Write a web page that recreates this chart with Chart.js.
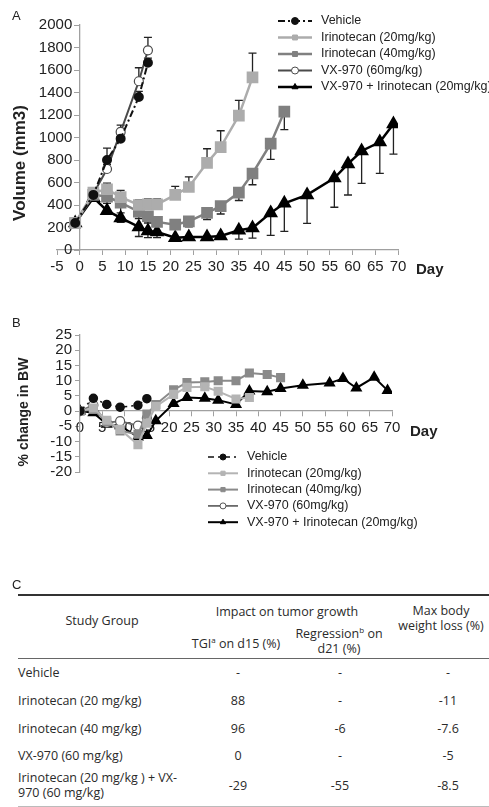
<!DOCTYPE html>
<html>
<head>
<meta charset="utf-8">
<script src="https://cdn.jsdelivr.net/npm/chart.js@4.4.1/dist/chart.umd.min.js"></script>
<style>
  body { margin: 0; background: #fff; }
  #page { position: relative; width: 489px; height: 807px; overflow: hidden; font-family: "Liberation Sans", Arial, sans-serif; color: #222; }
  canvas { position: absolute; left: 0; }
  .t { position: absolute; white-space: nowrap; line-height: 1; }
  .tbl { font-family: "Open Sans", sans-serif; font-size: 12.5px; color: #2a2a2a; line-height: 15px; text-align: center; }
  .tbl.lft { text-align: left; }
  .rule { position: absolute; left: 18px; right: 0; }
  sup { font-size: 8px; vertical-align: 5px; line-height: 0; }
</style>
</head>
<body>
<div id="page">
  <canvas id="volChart" width="489" height="290" style="top:0"></canvas>
  <canvas id="bwChart" width="489" height="240" style="top:300px"></canvas>
</div>
<script>
// ---- data: tumour volume (panel A) ----
const seriesNames = ["Vehicle", "Irinotecan (20mg/kg)", "Irinotecan (40mg/kg)", "VX-970 (60mg/kg)", "VX-970 + Irinotecan (20mg/kg)"];
const volDays = [-1, 3, 6, 9, 13, 15, 17, 21, 24, 28, 31, 35, 38, 42, 45, 50, 56, 59, 62, 66, 69];
const volVehicle = [240, 490, 800, 990, 1360, 1665];
const volVehicleErr = [0, 30, 105, 40, 50, 40];
const volIri20 = [240, 510, 540, 470, 400, 405, 405, 490, 560, 775, 915, 1195, 1535];
const volIri20Err = [0, 40, 55, 60, 45, 50, 50, 75, 90, 125, 145, 135, 215];
const volIri40 = [240, 490, 475, 420, 340, 300, 250, 225, 255, 330, 390, 510, 680, 945, 1230];
const volIri40Err = [0, 40, 60, 90, 60, 60, 40, 30, 50, 60, 70, 70, 100, 140, 160];
const volVx = [240, 500, 720, 1050, 1500, 1775];
const volVxErr = [0, 30, 40, 60, 120, 115];
const volCombo = [240, 465, 350, 285, 205, 170, 160, 110, 115, 115, 125, 175, 195, 330, 415, 490, 640, 765, 880, 960, 1120];
const volComboErr = [0, 30, 30, 40, 85, 60, 50, 20, 20, 20, 25, 78, 90, 200, 250, 253, 260, 276, 287, 278, 267];

// ---- data: body weight change (panel B) ----
const bwDays = [0, 3, 6, 9, 13, 15, 17, 21, 24, 28, 31, 35, 38, 42, 45, 50, 56, 59, 62, 66, 69];
const bwVehicle = [0, 4.2, 2.2, 1.3, 1.9, 4.1];
const bwIri20 = [0, 1, -3, -6, -11, -4, 1.5, 5.5, 7.8, 8, 6.5, 4, 4.5];
const bwIri40 = [0, 0.5, -3.5, -6.5, -7.6, -1, 2.2, 7, 9.4, 9.6, 10, 10, 12.5, 12, 11];
const bwVx = [0, 2, -3.8, -3.3, -4.8, -2.3];
const bwCombo = [0, -0.5, -4.3, -4.8, -8.5, -8, -3.2, 2.5, 4.5, 4.2, 3.6, 2.2, 6.6, 6.4, 7.4, 8.5, 9.2, 10.7, 7.6, 11.1, 6.8];

// ---- data: table (panel C) ----
const studyGroups = ["Vehicle", "Irinotecan (20 mg/kg)", "Irinotecan (40 mg/kg)", "VX-970 (60 mg/kg)", "Irinotecan (20 mg/kg ) + VX-<br>970 (60 mg/kg)"];
const tgiD15 = ["-", "88", "96", "0", "-29"];
const regressionD21 = ["-", "-", "-6", "-", "-55"];
const maxBwLoss = ["-", "-11", "-7.6", "-5", "-8.5"];

function pts(days, vals) {
  return vals.map((v, i) => ({x: days[i], y: v}));
}

const errorBars = {
  id: "errorBars",
  beforeDatasetsDraw(chart) {
    const {ctx, scales: {x, y}} = chart;
    ctx.save();
    ctx.strokeStyle = "#222";
    ctx.lineWidth = 1.3;
    chart.data.datasets.forEach(ds => {
      if (!ds.errors) return;
      ds.data.forEach((p, i) => {
        const e = ds.errors[i];
        if (!e) return;
        const px = x.getPixelForValue(p.x);
        const y0 = y.getPixelForValue(p.y);
        const y1 = y.getPixelForValue(p.y + ds.errDir * e);
        ctx.beginPath();
        ctx.moveTo(px, y0); ctx.lineTo(px, y1);
        ctx.moveTo(px - 4, y1); ctx.lineTo(px + 4, y1);
        ctx.stroke();
      });
    });
    ctx.restore();
  }
};

const lineLegend = {
  id: "lineLegend",
  afterDraw(chart, args, o) {
    const ctx = chart.ctx;
    ctx.save();
    chart.data.datasets.forEach((ds, i) => {
      const y = o.top + i * o.step;
      ctx.strokeStyle = ds.borderColor;
      ctx.lineWidth = ds.borderWidth;
      ctx.setLineDash(ds.borderDash || []);
      ctx.beginPath(); ctx.moveTo(o.left, y); ctx.lineTo(o.left + o.len, y); ctx.stroke();
      ctx.setLineDash([]);
      ctx.fillStyle = ds.pointBackgroundColor;
      ctx.strokeStyle = ds.pointBorderColor;
      ctx.lineWidth = 1;
      Chart.helpers.drawPoint(ctx, {pointStyle: ds.pointStyle, radius: o.radius, rotation: 0, borderWidth: 1}, o.left + o.len / 2, y);
      ctx.fillStyle = "#222";
      ctx.font = o.fontCss;
      ctx.textBaseline = "middle";
      ctx.textAlign = "left";
      ctx.fillText(ds.label, o.textX, y);
    });
    ctx.restore();
  }
};

Chart.defaults.font.family = "'Liberation Sans', Arial, sans-serif";
Chart.defaults.font.size = 15;
Chart.defaults.color = "#222";

const axisGrey = "#a0a0a0";
const plain = v => String(v);
// labels of an axis pinned at x = 0 sit flush on the axis, so pad them with an en space
const padded = v => v + "\u2002";

new Chart(document.getElementById("volChart"), {
  type: "line",
  data: {
    datasets: [
      { label: seriesNames[0], data: pts(volDays, volVehicle), errors: volVehicleErr, errDir: 1,
        borderColor: "#111", borderWidth: 2, borderDash: [7, 3, 2, 3], pointStyle: "circle", pointRadius: 4,
        pointBackgroundColor: "#111", pointBorderColor: "#111" },
      { label: seriesNames[1], data: pts(volDays, volIri20), errors: volIri20Err, errDir: 1,
        borderColor: "#acacac", borderWidth: 2.5, pointStyle: "rect", pointRadius: 6.5,
        pointBackgroundColor: "#acacac", pointBorderColor: "#acacac" },
      { label: seriesNames[2], data: pts(volDays, volIri40), errors: volIri40Err, errDir: -1,
        borderColor: "#808080", borderWidth: 2.5, pointStyle: "rect", pointRadius: 6.5,
        pointBackgroundColor: "#808080", pointBorderColor: "#808080" },
      { label: seriesNames[3], data: pts(volDays, volVx), errors: volVxErr, errDir: 1,
        borderColor: "#4a4a4a", borderWidth: 2, pointStyle: "circle", pointRadius: 4.5,
        pointBackgroundColor: "#fff", pointBorderColor: "#4a4a4a", pointBorderWidth: 1.2 },
      { label: seriesNames[4], data: pts(volDays, volCombo), errors: volComboErr, errDir: -1,
        borderColor: "#000", borderWidth: 2.5, pointStyle: "triangle", pointRadius: 6,
        pointBackgroundColor: "#000", pointBorderColor: "#000" }
    ]
  },
  options: {
    responsive: false,
    animation: false,
    layout: { padding: { left: 57, right: 91, top: 25, bottom: 0 } },
    plugins: {
      legend: { display: false },
      tooltip: { enabled: false },
      lineLegend: { left: 278, len: 34, textX: 321, top: 21, step: 16.5, radius: 3.5, fontCss: "12.5px 'Liberation Sans', Arial, sans-serif" }
    },
    scales: {
      x: {
        type: "linear", min: -5, max: 70,
        ticks: { stepSize: 5, padding: 3, maxRotation: 0, autoSkip: false, callback: plain },
        grid: { drawOnChartArea: false, tickLength: 5, color: axisGrey },
        border: { color: axisGrey, width: 1.3 },
        afterFit(s) { s.height = 40; }
      },
      y: {
        type: "linear", min: 0, max: 2000, position: { x: 0 },
        ticks: { stepSize: 200, autoSkip: false, callback: padded },
        grid: { drawOnChartArea: false, tickLength: 5, color: axisGrey },
        border: { color: axisGrey, width: 1.3 }
      }
    }
  },
  plugins: [errorBars, lineLegend]
});

new Chart(document.getElementById("bwChart"), {
  type: "line",
  data: {
    datasets: [
      { label: seriesNames[0], data: pts(bwDays, bwVehicle),
        borderColor: "#111", borderWidth: 1.5, borderDash: [6, 4, 2, 4], pointStyle: "circle", pointRadius: 4,
        pointBackgroundColor: "#111", pointBorderColor: "#111" },
      { label: seriesNames[1], data: pts(bwDays, bwIri20),
        borderColor: "#b4b4b4", borderWidth: 2, pointStyle: "rect", pointRadius: 5,
        pointBackgroundColor: "#b4b4b4", pointBorderColor: "#b4b4b4" },
      { label: seriesNames[2], data: pts(bwDays, bwIri40),
        borderColor: "#8a8a8a", borderWidth: 2, pointStyle: "rect", pointRadius: 5,
        pointBackgroundColor: "#8a8a8a", pointBorderColor: "#8a8a8a" },
      { label: seriesNames[3], data: pts(bwDays, bwVx),
        borderColor: "#6a6a6a", borderWidth: 1.8, pointStyle: "circle", pointRadius: 4.5,
        pointBackgroundColor: "#fff", pointBorderColor: "#555", pointBorderWidth: 1.2 },
      { label: seriesNames[4], data: pts(bwDays, bwCombo),
        borderColor: "#000", borderWidth: 2, pointStyle: "triangle", pointRadius: 5,
        pointBackgroundColor: "#000", pointBorderColor: "#000" }
    ]
  },
  options: {
    responsive: false,
    animation: false,
    layout: { padding: { left: 0, right: 97, top: 35, bottom: 68 } },
    plugins: {
      legend: { display: false },
      tooltip: { enabled: false },
      lineLegend: { left: 208, len: 30, textX: 247, top: 157, step: 16.3, radius: 3, fontCss: "12.5px 'Liberation Sans', Arial, sans-serif" }
    },
    scales: {
      x: {
        type: "linear", min: 0, max: 70, position: { y: 0 },
        ticks: { stepSize: 5, padding: 3, maxRotation: 0, autoSkip: false, callback: plain },
        grid: { drawOnChartArea: false, tickLength: 5, color: axisGrey },
        border: { color: axisGrey, width: 1.3 }
      },
      y: {
        type: "linear", min: -20, max: 25, position: "left",
        ticks: { stepSize: 5, padding: 3, autoSkip: false, callback: plain },
        grid: { drawOnChartArea: false, tickLength: 5, color: axisGrey },
        border: { color: axisGrey, width: 1.3 },
        afterFit(s) { s.width = 80; }
      }
    }
  },
  plugins: [lineLegend]
});

// ---- text outside the plot areas ----
const page = document.getElementById("page");
function put(html, x, y, cls, align, extra) {
  const d = document.createElement("div");
  d.className = "t " + (cls || "");
  d.innerHTML = html;
  d.style.left = x + "px";
  d.style.top = y + "px";
  d.style.transform = "translate(" + (align === "left" ? "0" : "-50%") + ",-50%)" + (extra || "");
  page.appendChild(d);
  return d;
}
put("A", 12, 15, "", "left").style.fontSize = "13px";
put("B", 12, 322, "", "left").style.fontSize = "13px";
put("C", 12, 584, "", "left").style.fontSize = "13px";
const yA = put("Volume (mm3)", 19, 163, "", "center", " rotate(-90deg)");
yA.style.fontSize = "17px"; yA.style.fontWeight = "bold";
const yB = put("% change in BW", 23, 412, "", "center", " rotate(-90deg)");
yB.style.fontSize = "14px"; yB.style.fontWeight = "bold";
const dA = put("Day", 416, 268, "", "left"); dA.style.fontSize = "15px"; dA.style.fontWeight = "bold";
const dB = put("Day", 410, 430, "", "left"); dB.style.fontSize = "15px"; dB.style.fontWeight = "bold";

// ---- table C ----
function rule(y, h, color) {
  const r = document.createElement("div");
  r.className = "rule";
  r.style.top = y + "px"; r.style.height = h + "px"; r.style.background = color;
  page.appendChild(r);
}
rule(594, 2, "#333");
rule(658, 1, "#666");
rule(806, 1, "#bbb");
put("Study Group", 102, 620, "tbl");
put("Impact on tumor growth", 287, 611, "tbl");
put("Max body<br>weight loss (%)", 441, 618, "tbl");
put("TGI<sup>a</sup> on d15 (%)", 236, 643, "tbl");
put("Regression<sup>b</sup> on<br>d21 (%)", 339, 641, "tbl");
const rowY = [672, 700, 728, 755, 785];
studyGroups.forEach((g, i) => {
  put(g, 18, rowY[i], "tbl lft", "left");
  put(tgiD15[i], 238, rowY[i], "tbl");
  put(regressionD21[i], 340, rowY[i], "tbl");
  put(maxBwLoss[i], 448, rowY[i], "tbl");
});
</script>
</body>
</html>
